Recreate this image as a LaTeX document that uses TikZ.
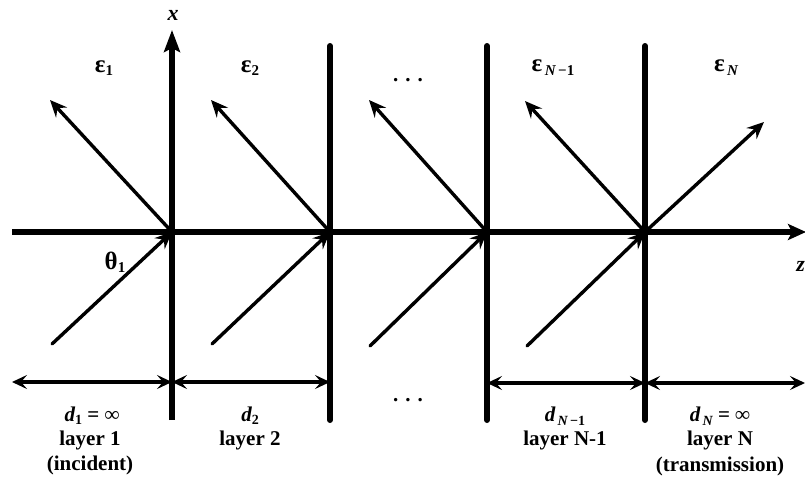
\documentclass[tikz,border=0pt]{standalone}
\usepackage{fontspec}
\setmainfont{Liberation Serif}
\usetikzlibrary{arrows.meta}
\begin{document}
\begin{tikzpicture}[x=1pt,y=-1pt,
  axis/.style={line width=6pt},
  ray/.style={line width=3.4pt,-{Stealth[length=17pt,width=15pt,inset=6pt]}},
  dim/.style={line width=3.4pt,{Stealth[length=15pt,width=14pt,inset=6pt]}-{Stealth[length=15pt,width=14pt,inset=6pt]}},
  lab/.style={font=\fontsize{21}{24}\selectfont\bfseries, inner sep=0pt},
  eps/.style={font=\fontsize{25}{26}\selectfont\bfseries, inner sep=0pt}]
\useasboundingbox (0,0) rectangle (805,490);
% junctions
\coordinate (O1) at (172,232);
\coordinate (O2) at (330,232);
\coordinate (O3) at (487,232);
\coordinate (O4) at (645,232);
% axes
\coordinate (zl) at (12,232);
\coordinate (zr) at (806,232);
\draw[axis,-{Stealth[length=18pt,width=16pt,inset=4pt]}] (zl) -- (zr);
\coordinate (xb) at (172,420);
\coordinate (xt) at (172,30);
\draw[axis,-{Stealth[length=22pt,width=16pt,inset=4pt]}] (xb) -- (xt);
\node[lab,font=\fontsize{22}{24}\selectfont\bfseries\itshape] (xlab) at (173,15) {x};
\node[lab,font=\fontsize{22}{24}\selectfont\bfseries\itshape,anchor=east] (zlab) at (805,266) {z};
\foreach \i/\xx in {2/330,3/487,4/645}{
  \coordinate (t\i) at (\xx,46);
  \coordinate (b\i) at (\xx,420);
  \draw[axis,line cap=round] (t\i) -- (b\i);
}
% reflected rays
\coordinate (R1) at (50,100);
\coordinate (R2) at (211,100);
\coordinate (R3) at (369,100);
\coordinate (R4) at (525,101);
\draw[ray] (O1) -- (R1);
\draw[ray] (O2) -- (R2);
\draw[ray] (O3) -- (R3);
\draw[ray] (O4) -- (R4);
% transmitted
\coordinate (T4) at (764,122);
\draw[ray] (O4) -- (T4);
% incident rays
\coordinate (I1) at (52,344);
\coordinate (I2) at (212,344);
\coordinate (I3) at (370,346);
\coordinate (I4) at (527,346);
\draw[ray,line cap=round] (I1) -- (O1);
\draw[ray,line cap=round] (I2) -- (O2);
\draw[ray,line cap=round] (I3) -- (O3);
\draw[ray,line cap=round] (I4) -- (O4);
% dimension arrows
\coordinate (D0) at (12,382);
\coordinate (D1) at (172,382);
\coordinate (D2) at (330,382);
\coordinate (D3) at (487,383);
\coordinate (D4) at (645,383);
\coordinate (D5) at (805,383);
\draw[dim] (D0) -- (D1);
\draw[dim] (D1) -- (D2);
\draw[dim] (D3) -- (D4);
\draw[dim] (D4) -- (D5);
% labels
\node[eps] (e1) at (104,68) {ε\raisebox{-3pt}{\fontsize{15}{16}\selectfont 1}};
\node[eps] (e2) at (250,68) {ε\raisebox{-3pt}{\fontsize{15}{16}\selectfont 2}};
\node[eps] (e3) at (553,68) {ε\raisebox{-4pt}{\fontsize{15}{16}\selectfont\,\itshape N\,\upshape −1}};
\node[eps] (e4) at (726,68) {ε\raisebox{-4pt}{\fontsize{15}{16}\selectfont\,\itshape N}};
\node[eps] (th) at (115,262) {θ\raisebox{-3pt}{\fontsize{15}{16}\selectfont 1}};
\node[lab] (dots1) at (408,80) {. . .};
\node[lab] (dots2) at (408,400) {. . .};
\node[lab] (d1) at (92,416) {\itshape d\raisebox{-3pt}{\fontsize{14}{16}\selectfont\upshape 1} \upshape = ∞};
\node[lab] (l1) at (90,440) {layer 1};
\node[lab] (c1) at (90,465) {(incident)};
\node[lab] (d2) at (250,416) {\itshape d\raisebox{-3pt}{\fontsize{14}{16}\selectfont\upshape 2}};
\node[lab] (l2) at (250,440) {layer 2};
\node[lab] (d3) at (565,416) {\itshape d\raisebox{-4pt}{\fontsize{14}{16}\selectfont\,N\,\upshape −1}};
\node[lab] (l3) at (565,440) {layer N-1};
\node[lab] (d4) at (720,416) {\itshape d\raisebox{-4pt}{\fontsize{14}{16}\selectfont\,N} \upshape = ∞};
\node[lab] (l4) at (720,440) {layer N};
\node[lab] (c4) at (720,466) {(transmission)};
\end{tikzpicture}
\end{document}
